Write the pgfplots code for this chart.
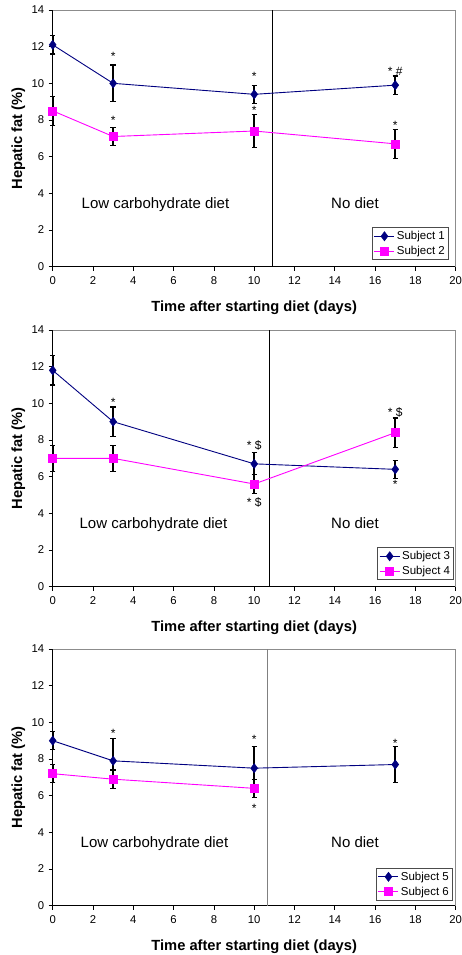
\documentclass[border=0pt]{standalone}
\usepackage{fontspec}
\setmainfont{Liberation Sans}
\usepackage{pgfplots}
\pgfplotsset{compat=1.18}
\definecolor{navy}{RGB}{0,0,128}
\definecolor{mag}{RGB}{255,0,255}
\tikzset{
  astx/.style={anchor=base, yshift=-6.8pt, inner sep=0pt, font=\fontsize{12}{14}\selectfont},
  dietlbl/.style={anchor=base, font=\fontsize{15}{18}\selectfont},
}
\pgfplotsset{
  panel/.style={
    scale only axis, width=403pt, height=256.7pt, anchor=south west,
    xmin=0, xmax=20, ymin=0, ymax=14,
    xtick={0,2,...,20}, ytick={0,2,...,14},
    axis x line*=bottom, axis y line*=left,
    axis line style={-, black, line width=0.8pt},
    tick align=outside, major tick length=4pt,
    tick style={black, line width=0.8pt},
    ticklabel style={font=\fontsize{11.3}{13}\selectfont},
    xticklabel style={yshift=-2.5pt},
    yticklabel style={xshift=-1pt},
    /pgf/number format/assume math mode=true,
    xlabel={Time after starting diet (days)},
    ylabel={Hepatic fat (\%)},
    label style={font=\bfseries\fontsize{14.7}{17}\selectfont},
    xlabel style={at={(axis description cs:0.5,-0.175)}, anchor=base},
    ylabel style={at={(axis description cs:-0.076,0.5)}, anchor=base},
    clip=false,
    legend cell align=left,
    legend style={draw=black!70, line width=1pt, fill=white,
      font=\fontsize{11.5}{13}\selectfont, inner sep=1.5pt, row sep=1pt, anchor=south east},
    legend image code/.code={\draw[mark repeat=2,mark phase=2] plot coordinates {(0pt,0pt) (10pt,0pt) (20pt,0pt)};},
  },
  oddsub/.style={navy, line width=0.9pt, mark=diamond*, mark size=4.6pt,
    mark options={fill=navy, draw=navy, line width=0.5pt},
    error bars/.cd, y dir=both, y explicit,
    error bar style={line width=1.7pt, black},
    error mark options={rotate=90, mark size=2.7pt, line width=1.2pt, black}},
  evensub/.style={mag, line width=0.9pt, mark=square*, mark size=4pt,
    mark options={fill=mag, draw=mag, line width=0.5pt},
    error bars/.cd, y dir=both, y explicit,
    error bar style={line width=1.7pt, black},
    error mark options={rotate=90, mark size=2.7pt, line width=1.2pt, black}},
}
\begin{document}
\begin{tikzpicture}
\path[use as bounding box] (0pt,0pt) rectangle (461pt,955pt);
% ---------- Panel 1 ----------
\begin{axis}[panel, at={(52.7pt,688.3pt)},
  legend style={at={(rel axis cs:0.983,0.026)}}]
\draw[black!45, line width=0.8pt] (rel axis cs:0,1) -- (rel axis cs:1,1) -- (rel axis cs:1,0);
\addplot[black, line width=0.8pt, forget plot] coordinates {(10.9,0) (10.9,14)};
\addplot[oddsub] coordinates {(0,12.1) +- (0,0.5) (3,10.0) +- (0,1.0) (10,9.4) +- (0,0.5) (17,9.9) +- (0,0.5)};
\addlegendentry{Subject 1}
\addplot[evensub] coordinates {(0,8.5) +- (0,0.8) (3,7.1) +- (0,0.5) (10,7.4) +- (0,0.9) (17,6.7) +- (0,0.8)};
\addlegendentry{Subject 2}
\node[astx] at (axis cs:3,11.6) {*};
\node[astx] at (axis cs:3,8.13) {*};
\node[astx] at (axis cs:10,10.55) {*};
\node[astx] at (axis cs:10,8.67) {*};
\node[astx] at (axis cs:17,10.82) {* \#};
\node[astx] at (axis cs:17,7.86) {*};
\node[dietlbl] at (axis cs:5.1,3.15) {Low carbohydrate diet};
\node[dietlbl] at (axis cs:15,3.15) {No diet};
\end{axis}
% ---------- Panel 2 ----------
\begin{axis}[panel, at={(52.7pt,368.3pt)},
  legend style={at={(rel axis cs:0.996,0.026)}}]
\draw[black!45, line width=0.8pt] (rel axis cs:0,1) -- (rel axis cs:1,1) -- (rel axis cs:1,0);
\addplot[black, line width=0.8pt, forget plot] coordinates {(10.75,0) (10.75,14)};
\addplot[oddsub] coordinates {(0,11.8) +- (0,0.8) (3,9.0) +- (0,0.8) (10,6.7) +- (0,0.6) (17,6.4) +- (0,0.5)};
\addlegendentry{Subject 3}
\addplot[evensub] coordinates {(0,7.0) +- (0,0.7) (3,7.0) +- (0,0.7) (10,5.6) +- (0,0.5) (17,8.4) +- (0,0.8)};
\addlegendentry{Subject 4}
\node[astx] at (axis cs:3,10.22) {*};
\node[astx] at (axis cs:10,7.88) {* \$};
\node[astx] at (axis cs:10,4.73) {* \$};
\node[astx] at (axis cs:17,9.64) {* \$};
\node[astx] at (axis cs:17,5.73) {*};
\node[dietlbl] at (axis cs:5.0,3.15) {Low carbohydrate diet};
\node[dietlbl] at (axis cs:15,3.15) {No diet};
\end{axis}
% ---------- Panel 3 ----------
\begin{axis}[panel, at={(52.7pt,49.3pt)},
  legend style={at={(rel axis cs:0.993,0.02)}}]
\draw[black!45, line width=0.8pt] (rel axis cs:0,1) -- (rel axis cs:1,1) -- (rel axis cs:1,0);
\addplot[black!50, line width=1.2pt, forget plot] coordinates {(10.67,0) (10.67,14)};
\addplot[oddsub] coordinates {(0,9.0) +- (0,0.5) (3,7.9) +- (0,1.2) (10,7.5) +- (0,1.2) (17,7.7) +- (0,1.0)};
\addlegendentry{Subject 5}
\addplot[evensub] coordinates {(0,7.2) +- (0,0.5) (3,6.9) +- (0,0.5) (10,6.4) +- (0,0.5)};
\addlegendentry{Subject 6}
\node[astx] at (axis cs:3,9.53) {*};
\node[astx] at (axis cs:10,9.22) {*};
\node[astx] at (axis cs:10,5.44) {*};
\node[astx] at (axis cs:17,9.02) {*};
\node[dietlbl] at (axis cs:5.05,3.15) {Low carbohydrate diet};
\node[dietlbl] at (axis cs:15,3.15) {No diet};
\end{axis}
\end{tikzpicture}
\end{document}
